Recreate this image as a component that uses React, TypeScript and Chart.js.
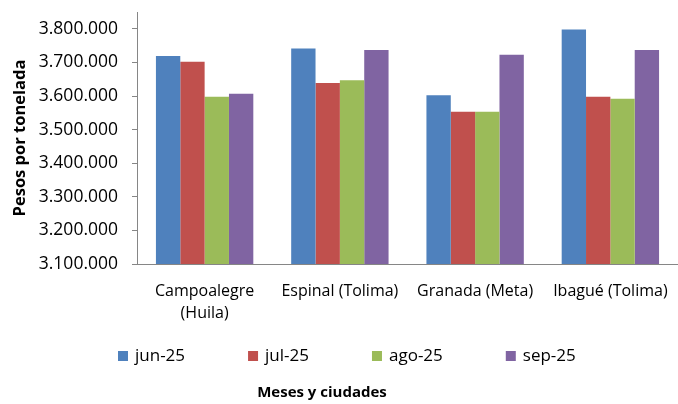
import React, { useEffect, useRef } from "react";
import { Chart, registerables } from "chart.js";

Chart.register(...registerables);

const CATEGORIES: (string | string[])[] = [
  ["Campoalegre", "(Huila)"],
  "Espinal (Tolima)",
  "Granada (Meta)",
  "Ibagué (Tolima)",
];
const SERIES_NAMES = ["jun-25", "jul-25", "ago-25", "sep-25"];
const JUN_25 = [3719000, 3741000, 3602000, 3798000];
const JUL_25 = [3702000, 3639000, 3553000, 3598000];
const AGO_25 = [3598000, 3647000, 3553000, 3592000];
const SEP_25 = [3607000, 3737000, 3723000, 3737000];
const SERIES_VALUES = [JUN_25, JUL_25, AGO_25, SEP_25];
const COLORS = ["#4F81BD", "#C0504D", "#9BBB59", "#8064A2"];
const Y_MIN = 3100000;
const Y_MAX = 3850000;
const Y_TICKS = [3100000, 3200000, 3300000, 3400000, 3500000, 3600000, 3700000, 3800000];
const Y_TITLE = "Pesos por tonelada";
const X_TITLE = "Meses y ciudades";

const fmt = (v: number) =>
  String(Math.round(v)).replace(/\B(?=(\d{3})+(?!\d))/g, ".");

const bottomLegendPlugin = {
  id: "bottomLegend",
  afterDraw(chart: any) {
    const ctx = chart.ctx as CanvasRenderingContext2D;
    ctx.save();
    ctx.font = '17px "Open Sans"';
    ctx.textBaseline = "middle";
    ctx.textAlign = "left";
    const y = 356;
    let x = 118;
    chart.data.datasets.forEach((ds: any) => {
      ctx.fillStyle = ds.backgroundColor;
      ctx.fillRect(x, y - 5, 10, 10);
      ctx.fillStyle = "#000";
      ctx.fillText(ds.label, x + 17, y);
      x += 17 + ctx.measureText(ds.label).width + 63;
    });
    ctx.font = 'bold 15px "Open Sans"';
    ctx.textAlign = "center";
    ctx.fillText(X_TITLE, 322, 393);
    ctx.restore();
  },
};

export default function App() {
  const ref = useRef<HTMLCanvasElement>(null);
  useEffect(() => {
    document.body.style.margin = "0";
    const chart = new Chart(ref.current!, {
      type: "bar",
      data: {
        labels: CATEGORIES,
        datasets: SERIES_NAMES.map((name, i) => ({
          label: name,
          data: SERIES_VALUES[i],
          backgroundColor: COLORS[i],
          borderWidth: 0,
          categoryPercentage: 0.72,
          barPercentage: 1,
        })),
      },
      options: {
        animation: false,
        responsive: true,
        maintainAspectRatio: false,
        layout: { padding: { top: 12, right: 0, bottom: 74, left: 0 } },
        plugins: {
          legend: { display: false },
          tooltip: { enabled: false },
          title: { display: false },
        },
        scales: {
          x: {
            grid: { display: false, drawTicks: false, tickLength: 0 },
            border: { display: true, color: "#868686", width: 1 },
            ticks: {
              autoSkip: false,
              maxRotation: 0,
              minRotation: 0,
              padding: 17,
              color: "#000",
              font: { family: '"Open Sans"', size: 16, lineHeight: 1.35 },
            },
            afterFit: (s: any) => {
              s.height = 66;
              s.paddingLeft = 0;
              s.paddingRight = 0;
            },
          },
          y: {
            min: Y_MIN,
            max: Y_MAX,
            afterBuildTicks: (s: any) => {
              s.ticks = Y_TICKS.map((v) => ({ value: v }));
            },
            grid: {
              display: true,
              drawOnChartArea: false,
              drawTicks: true,
              tickLength: 5,
              color: "#868686",
            },
            border: { display: true, color: "#868686", width: 1 },
            ticks: {
              autoSkip: false,
              padding: 14,
              color: "#000",
              font: { family: '"Open Sans"', size: 17.5 },
              callback: (v: any) => fmt(Number(v)),
            },
            title: {
              display: true,
              text: Y_TITLE,
              color: "#000",
              padding: { top: 10, bottom: 0 },
              font: { family: '"Open Sans"', size: 16.5, weight: "bold", lineHeight: 1.2 },
            },
            afterFit: (s: any) => {
              s.width = 137;
              s.paddingTop = 0;
              s.paddingBottom = 0;
            },
          },
        },
      },
      plugins: [bottomLegendPlugin],
    });
    return () => chart.destroy();
  }, []);
  return (
    <div style={{ position: "relative", width: 678, height: 404 }}>
      <canvas ref={ref} />
    </div>
  );
}
